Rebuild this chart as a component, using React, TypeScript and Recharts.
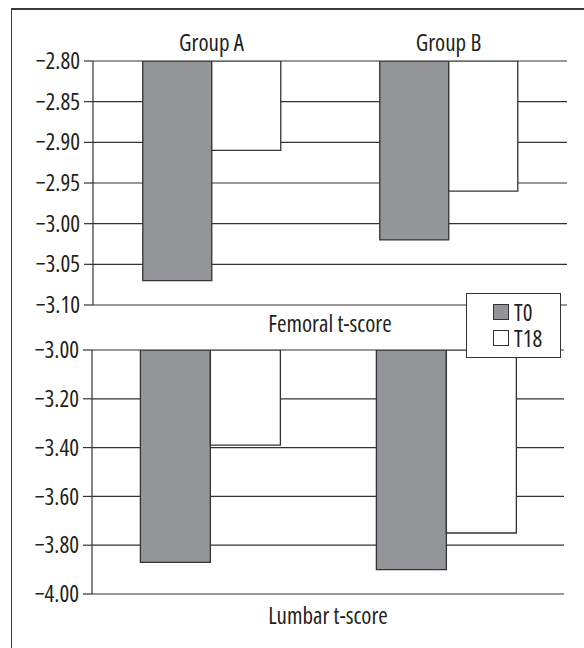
import React from "react";
import { BarChart, Bar, XAxis, YAxis, CartesianGrid, Legend } from "recharts";

const groups = ["Group A", "Group B"];
const femoralT0 = [-3.07, -3.02];
const femoralT18 = [-2.91, -2.96];
const lumbarT0 = [-3.87, -3.9];
const lumbarT18 = [-3.39, -3.75];
const femoralTicks = [-3.1, -3.05, -3.0, -2.95, -2.9, -2.85, -2.8];
const lumbarTicks = [-4.0, -3.8, -3.6, -3.4, -3.2, -3.0];
const seriesNames = ["T0", "T18"];

const femoralData = groups.map((g, i) => ({ group: g, T0: femoralT0[i], T18: femoralT18[i] }));
const lumbarData = groups.map((g, i) => ({ group: g, T0: lumbarT0[i], T18: lumbarT18[i] }));

const FONT = "'Open Sans', sans-serif";
const INK = "#231f20";
const LINE = "#333";
const GREY = "#939598";

const fmt = (v: number) => (v < 0 ? "\u2212" : "") + Math.abs(v).toFixed(2);

const LegendBox = () => (
  <div
    style={{
      width: 95,
      height: 65,
      boxSizing: "border-box",
      border: `1.3px solid ${LINE}`,
      background: "#fff",
      fontFamily: FONT,
      fontStretch: "condensed",
      fontSize: 23,
      color: INK,
      paddingLeft: 26,
      paddingTop: 5,
      lineHeight: "26px",
    }}
  >
    {seriesNames.map((n, i) => (
      <div key={n} style={{ display: "flex", alignItems: "center", height: 26 }}>
        <span
          style={{
            display: "inline-block",
            width: 16,
            height: 16,
            boxSizing: "border-box",
            border: `1.2px solid ${LINE}`,
            background: i === 0 ? GREY : "#fff",
            marginRight: 5,
          }}
        />
        <span>{n}</span>
      </div>
    ))}
  </div>
);

export default function App() {
  const tickStyle: any = { fontSize: 23, fill: INK, fontFamily: FONT, fontStretch: "condensed" };
  return (
    <div
      style={{
        position: "absolute",
        left: 0,
        top: 0,
        width: 584,
        height: 648,
        overflow: "hidden",
        background: "#fff",
        fontFamily: FONT,
      }}
    >
      <div
        style={{
          position: "absolute",
          left: 11,
          top: 8,
          width: 700,
          height: 700,
          borderTop: "2px solid #3a3a3a",
          borderLeft: "1.5px solid #3a3a3a",
        }}
      />
      <div style={{ position: "absolute", left: 0, top: 0 }}>
        <BarChart
          width={584}
          height={340}
          data={femoralData}
          margin={{ top: 31, right: 17, left: 33, bottom: 5 }}
          barCategoryGap="21%"
          barGap={0}
        >
          <CartesianGrid yAxisId="l" vertical={false} stroke={LINE} strokeWidth={1.2} />
          <XAxis
            xAxisId="cat"
            dataKey="group"
            orientation="top"
            height={30}
            axisLine={false}
            tickLine={false}
            tickSize={0}
            tickMargin={10}
            tick={tickStyle}
          />
          <XAxis
            xAxisId="title"
            dataKey="group"
            orientation="bottom"
            height={30}
            axisLine={false}
            tickLine={false}
            tick={false}
            label={{ value: "Femoral t-score", position: "insideBottom", offset: 3, style: tickStyle }}
          />
          <YAxis
            yAxisId="l"
            domain={[-3.1, -2.8]}
            ticks={femoralTicks}
            tickFormatter={fmt}
            width={60}
            tickSize={9}
            tickMargin={4}
            axisLine={{ stroke: LINE, strokeWidth: 1.2 }}
            tickLine={{ stroke: LINE, strokeWidth: 1.2 }}
            tick={tickStyle}
            allowDataOverflow
          />
          <YAxis
            yAxisId="r"
            orientation="right"
            domain={[-3.1, -2.8]}
            width={0}
            tick={false}
            tickLine={false}
            axisLine={{ stroke: LINE, strokeWidth: 1.2 }}
          />
          <Legend
            layout="vertical"
            align="center"
            verticalAlign="middle"
            content={() => <LegendBox />}
            wrapperStyle={{ position: "absolute", left: 466, top: 293, width: 95, height: 65, zIndex: 10 }}
          />
          <Bar xAxisId="cat" yAxisId="l" dataKey="T0" name="T0" fill={GREY} stroke={LINE} strokeWidth={1.3} isAnimationActive={false} />
          <Bar xAxisId="cat" yAxisId="l" dataKey="T18" name="T18" fill="#fff" stroke={LINE} strokeWidth={1.3} isAnimationActive={false} />
        </BarChart>
      </div>
      <div style={{ position: "absolute", left: 0, top: 330 }}>
        <BarChart
          width={584}
          height={318}
          data={lumbarData}
          margin={{ top: 20, right: 20, left: 32, bottom: 24 }}
          barCategoryGap="20.5%"
          barGap={0}
        >
          <CartesianGrid yAxisId="l" vertical={false} stroke={LINE} strokeWidth={1.2} />
          <XAxis
            xAxisId="cat"
            dataKey="group"
            orientation="bottom"
            height={30}
            axisLine={false}
            tickLine={false}
            tick={false}
            label={{ value: "Lumbar t-score", position: "insideBottom", offset: 0, style: tickStyle }}
          />
          <YAxis
            yAxisId="l"
            domain={[-4.0, -3.0]}
            ticks={lumbarTicks}
            tickFormatter={fmt}
            width={60}
            tickSize={9}
            tickMargin={4}
            axisLine={{ stroke: LINE, strokeWidth: 1.2 }}
            tickLine={{ stroke: LINE, strokeWidth: 1.2 }}
            tick={tickStyle}
            allowDataOverflow
          />
          <YAxis
            yAxisId="r"
            orientation="right"
            domain={[-4.0, -3.0]}
            width={0}
            tick={false}
            tickLine={false}
            axisLine={{ stroke: LINE, strokeWidth: 1.2 }}
          />
          <Bar xAxisId="cat" yAxisId="l" dataKey="T0" name="T0" fill={GREY} stroke={LINE} strokeWidth={1.3} isAnimationActive={false} />
          <Bar xAxisId="cat" yAxisId="l" dataKey="T18" name="T18" fill="#fff" stroke={LINE} strokeWidth={1.3} isAnimationActive={false} />
        </BarChart>
      </div>
    </div>
  );
}
